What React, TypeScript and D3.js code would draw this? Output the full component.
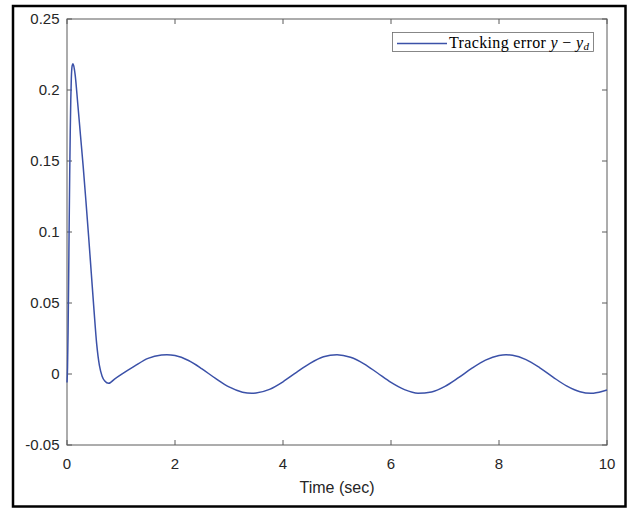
import React from "react";
import * as d3 from "d3";

const timeSec = [
  0, 0.01, 0.02, 0.03, 0.04, 0.05, 0.06, 0.07, 0.08, 0.095, 0.11, 0.125, 0.15, 0.2, 0.25, 0.3, 0.35, 0.4,
  0.45, 0.5, 0.55, 0.6, 0.65, 0.7, 0.77, 0.88, 1.0, 1.25, 1.5, 1.75, 1.85, 2.0, 2.25, 2.5, 2.75, 3.0, 3.25,
  3.42, 3.5, 3.75, 4.0, 4.25, 4.5, 4.75, 5.0, 5.25, 5.5, 5.75, 6.0, 6.25, 6.5, 6.75, 7.0, 7.25, 7.5,
  7.75, 8.0, 8.13, 8.25, 8.5, 8.75, 9.0, 9.25, 9.5, 9.7, 9.75, 10.0,
];
const trackingError = [
  -0.006, 0.005, 0.03, 0.065, 0.105, 0.14, 0.17, 0.193, 0.208, 0.217, 0.2185, 0.217, 0.211, 0.19, 0.168,
  0.146, 0.122, 0.097, 0.071, 0.045, 0.021, 0.006, -0.0015, -0.005, -0.0066, -0.0036, -0.0005, 0.0055, 0.011,
  0.0134, 0.0136, 0.013, 0.0095, 0.0036, -0.0031, -0.0091, -0.0128, -0.0136, -0.0134, -0.0108, -0.0055,
  0.0012, 0.0075, 0.0121, 0.0136, 0.0118, 0.0072, 0.0007, -0.0059, -0.011, -0.0135, -0.0126, -0.0087,
  -0.0026, 0.0041, 0.0098, 0.0131, 0.0136, 0.0132, 0.0101, 0.0045, -0.0022, -0.0084, -0.0125, -0.0136,
  -0.0135, -0.0113,
];
const xTicks = [0, 2, 4, 6, 8, 10];
const yTicks = [-0.05, 0, 0.05, 0.1, 0.15, 0.2, 0.25];
const yTickLabels = ["-0.05", "0", "0.05", "0.1", "0.15", "0.2", "0.25"];

export default function App() {
  const W = 630, H = 510;
  const left = 67, right = 607, top = 19, bottom = 445;
  const x = d3.scaleLinear().domain([0, 10]).range([left, right]);
  const y = d3.scaleLinear().domain([-0.05, 0.25]).range([bottom, top]);
  const pts = timeSec.map((t, i) => [t, trackingError[i]] as [number, number]);
  const line = d3.line<[number, number]>().x(d => x(d[0])).y(d => y(d[1])).curve(d3.curveMonotoneX);
  const axisColor = "#5a5a5a";
  const textColor = "#262626";
  const font = "'Liberation Sans', Arial, Helvetica, sans-serif";
  const tl = 5;
  const blue = "#3b51a8";
  return (
    <svg width={W} height={H} style={{ position: "absolute", left: 0, top: 0 }}>
      <rect x={0} y={0} width={W} height={H} fill="#fff" />
      <rect x={13} y={6} width={612.5} height={500.5} fill="none" stroke="#000" strokeWidth={2.5} />
      <rect x={left} y={top} width={right - left} height={bottom - top} fill="#fff" stroke={axisColor} strokeWidth={1} />
      {xTicks.map(t => (
        <g key={"x" + t}>
          <line x1={x(t)} x2={x(t)} y1={bottom} y2={bottom - tl} stroke={axisColor} />
          <line x1={x(t)} x2={x(t)} y1={top} y2={top + tl} stroke={axisColor} />
          <text x={x(t)} y={469} textAnchor="middle" fontFamily={font} fontSize={15} fill={textColor}>{t}</text>
        </g>
      ))}
      {yTicks.map((v, i) => (
        <g key={"y" + v}>
          <line x1={left} x2={left + tl} y1={y(v)} y2={y(v)} stroke={axisColor} />
          <line x1={right} x2={right - tl} y1={y(v)} y2={y(v)} stroke={axisColor} />
          <text x={59.5} y={y(v) + 5.3} textAnchor="end" fontFamily={font} fontSize={15} fill={textColor}>{yTickLabels[i]}</text>
        </g>
      ))}
      <text x={(left + right) / 2} y={493} textAnchor="middle" fontFamily={font} fontSize={16} fill={textColor}>Time (sec)</text>
      <path d={line(pts) || ""} fill="none" stroke={blue} strokeWidth={1.5} />
      <rect x={392.5} y={32.5} width={201} height={19} fill="#fff" stroke="#6a6a6a" strokeWidth={0.8} />
      <line x1={397} x2={447} y1={43.5} y2={43.5} stroke={blue} strokeWidth={1.5} />
      <text x={449} y={47.5} fontFamily="'Liberation Serif', 'Times New Roman', serif" fontSize={16} fill="#000"
        textLength={140} lengthAdjust="spacing">
        <tspan>Tracking error </tspan>
        <tspan fontStyle="italic">y</tspan>
        <tspan> − </tspan>
        <tspan fontStyle="italic">y</tspan>
        <tspan fontStyle="italic" fontSize={11} dy={2.5}>d</tspan>
      </text>
    </svg>
  );
}
